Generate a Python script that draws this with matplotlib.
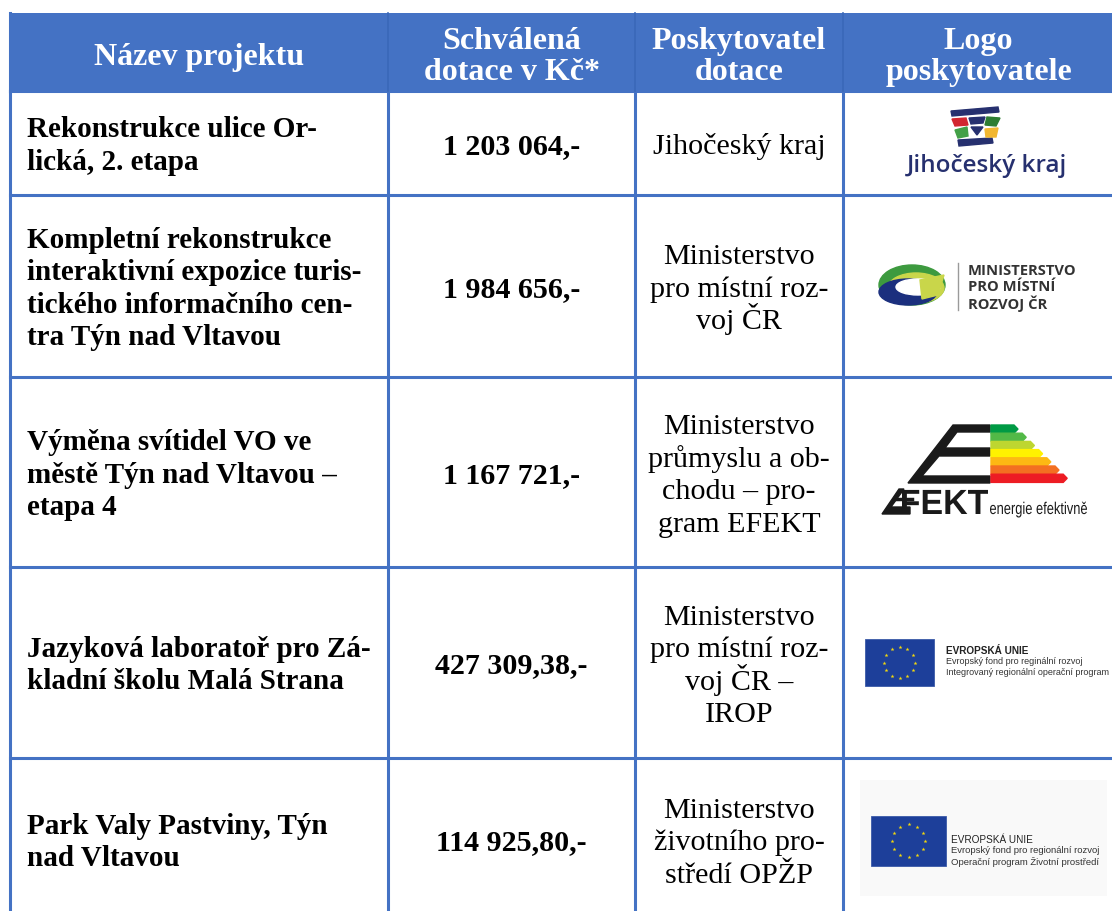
import numpy as np
import matplotlib
matplotlib.use("Agg")
import matplotlib.pyplot as plt
from matplotlib.patches import Rectangle, Polygon, Ellipse, PathPatch
from matplotlib.textpath import TextPath
from matplotlib.font_manager import FontProperties
from matplotlib.transforms import Affine2D

# table content
headers = ["Název projektu", "Schválená\ndotace v Kč*", "Poskytovatel\ndotace", "Logo\nposkytovatele"]
projects = [
    "Rekonstrukce ulice Or-\nlická, 2. etapa",
    "Kompletní rekonstrukce\ninteraktivní expozice turis-\ntického informačního cen-\ntra Týn nad Vltavou",
    "Výměna svítidel VO ve\nměstě Týn nad Vltavou –\netapa 4",
    "Jazyková laboratoř pro Zá-\nkladní školu Malá Strana",
    "Park Valy Pastviny, Týn\nnad Vltavou",
]
amounts = ["1 203 064,-", "1 984 656,-", "1 167 721,-", "427 309,38,-", "114 925,80,-"]
providers = [
    "Jihočeský kraj",
    "Ministerstvo\npro místní roz-\nvoj ČR",
    "Ministerstvo\nprůmyslu a ob-\nchodu – pro-\ngram EFEKT",
    "Ministerstvo\npro místní roz-\nvoj ČR –\nIROP",
    "Ministerstvo\nživotního pro-\nstředí OPŽP",
]
logos = ["jck", "mmr", "efekt", "eu_irop", "eu_opzp"]
eu_texts = {
    "eu_irop": ["Evropský fond pro reginální rozvoj", "Integrovaný regionální operační program"],
    "eu_opzp": ["Evropský fond pro regionální rozvoj", "Operační program Životní prostředí"],
}

# layout in pixels
col_x = [10, 388, 635, 843, 1114]
row_y = [14, 92, 196, 378, 568, 759, 922]
blue = "#4472c4"
serif = ["Liberation Serif", "DejaVu Serif"]
sans = ["Open Sans", "DejaVu Sans"]
name_fs = 21.0
body_fs = 21.6
head_fs = 23
line_h = 32.5

fig = plt.figure(figsize=(11.12, 9.12), dpi=100)
ax = fig.add_axes([0, 0, 1, 1])
ax.set_xlim(0, 1112)
ax.set_ylim(912, 0)
ax.axis("off")


def lines_text(x, cy, s, step, fontsize, **kw):
    parts = s.split("\n")
    y0 = cy - step * (len(parts) - 1) / 2 + 0.33 * fontsize * 100 / 72
    for k, p in enumerate(parts):
        ax.text(x, y0 + k * step, p, va="baseline", fontsize=fontsize, zorder=3, **kw)


def fit_text(s, x0, width, baseline, size, weight="bold", family="Liberation Sans"):
    tp = TextPath((0, 0), s, size=size, prop=FontProperties(family=family, weight=weight))
    ext = tp.get_extents()
    sx = width / ext.width
    tr = Affine2D().translate(-ext.x0, 0).scale(sx, -1).translate(x0, baseline)
    ax.add_patch(PathPatch(tp, transform=tr + ax.transData, color="#1a1a1a", lw=0, zorder=3))


# header band
ax.add_patch(Rectangle((col_x[0], row_y[0]), col_x[-1] - col_x[0], row_y[1] - row_y[0],
                       facecolor=blue, edgecolor="none", zorder=1))
for i, h in enumerate(headers):
    cx = (col_x[i] + col_x[i + 1]) / 2
    lines_text(cx, (row_y[0] + row_y[1]) / 2 + 1, h, 31, head_fs, color="white", family=serif,
               weight="bold", ha="center")

# grid lines
for y in row_y[1:]:
    ax.plot([col_x[0], col_x[-1]], [y, y], color=blue, lw=2.2, zorder=2)
for x in col_x:
    ax.plot([x, x], [row_y[1], row_y[-1]], color=blue, lw=2.2, zorder=2)
    ax.plot([x, x], [row_y[0], row_y[1]], color="#3a68b8", lw=1.2, zorder=2)
ax.plot([col_x[0], col_x[0]], [row_y[0], row_y[1]], color=blue, lw=2.2, zorder=2)


def eu_flag(x0, y0, w, h):
    ax.add_patch(Rectangle((x0, y0), w, h, facecolor="#1d3f9a", edgecolor="#3b5aa8", lw=0.6, zorder=3))
    ang = np.linspace(0, 2 * np.pi, 12, endpoint=False)
    r = h * 0.33
    ax.scatter(x0 + w / 2 + r * np.cos(ang), y0 + h / 2 + r * np.sin(ang), marker="*",
               s=9, color="#f5d90a", linewidths=0, zorder=4)


def draw_logo(kind):
    if kind == "jck":
        navy = "#26306f"
        ax.add_patch(Polygon([[951, 112], [998, 108], [999, 113], [952, 117]], color=navy, zorder=3))
        ax.add_patch(Polygon([[958, 141], [992, 139], [993, 144], [959, 147]], color=navy, zorder=3))
        ax.add_patch(Polygon([[952, 120], [966, 119], [968, 126], [955, 127]], color="#d22630", zorder=3))
        ax.add_patch(Polygon([[969, 119], [985, 118], [983, 124], [971, 125]], color=navy, zorder=3))
        ax.add_patch(Polygon([[987, 118], [1000, 119], [996, 127], [985, 126]], color="#2e7d32", zorder=3))
        ax.add_patch(Polygon([[955, 131], [967, 128], [968, 137], [958, 139]], color="#43a047", zorder=3))
        ax.add_patch(Polygon([[971, 128], [983, 128], [977, 136]], color=navy, zorder=3))
        ax.add_patch(Polygon([[985, 130], [998, 129], [996, 138], [986, 138]], color="#f2b731", zorder=3))
        ax.text(987, 166, "Jihočeský kraj", color=navy, family=sans, weight="semibold",
                fontsize=17.5, ha="center", va="center", zorder=3)
    elif kind == "mmr":
        ax.add_patch(Ellipse((912, 286), 66, 40, color="#3d9a3f", zorder=3))
        ax.add_patch(Ellipse((916, 289), 56, 30, color="#c9d64a", zorder=3))
        ax.add_patch(Ellipse((908, 293), 58, 26, color="#1b2f7e", zorder=3))
        ax.add_patch(Ellipse((918, 288), 44, 16, color="white", zorder=3))
        ax.add_patch(Polygon([[920, 281], [944, 276], [938, 296], [922, 300]], color="#c9d64a", zorder=3))
        ax.plot([958, 958], [264, 311], color="#9a9a9a", lw=1, zorder=3)
        for k, t in enumerate(["MINISTERSTVO", "PRO MÍSTNÍ", "ROZVOJ ČR"]):
            ax.text(968, 271 + 16.5 * k, t, color="#333333", family=sans, weight="bold",
                    fontsize=10.6, ha="left", va="center", zorder=3)
    elif kind == "efekt":
        k = "#1a1a1a"
        ax.add_patch(Polygon([[908, 484], [953, 426], [990, 426], [990, 433], [957, 433],
                              [945, 449], [990, 449], [990, 457], [939, 457], [922, 477],
                              [990, 477], [990, 484]], color=k, zorder=3))
        colors = ["#009a44", "#52b947", "#bed630", "#fff200", "#fdb913", "#f37021", "#ed1c24"]
        for j, c in enumerate(colors):
            y0 = 426 + j * 8.2
            x1 = 1014 + j * 8.2
            ax.add_patch(Polygon([[991, y0], [x1, y0], [x1 + 4, y0 + 4.1], [x1, y0 + 8.2], [991, y0 + 8.2]],
                                 color=c, zorder=3))
        ax.add_patch(Polygon([[882, 515], [899, 490], [904, 490], [891, 508], [910, 508], [910, 515]],
                             color=k, zorder=3))
        ax.plot([896, 912], [500, 500], color=k, lw=2.5, zorder=3)
        fit_text("FEKT", 902, 86, 515, 35)
        fit_text("energie efektivně", 990, 97, 515, 17, weight="normal")
    else:
        if kind == "eu_irop":
            fx, fy, fw, fh, tx, ty, dy, fs = 865, 640, 69, 47, 946, 651, 11, 6.5
            bold = "bold"
        else:
            ax.add_patch(Rectangle((860, 781), 247, 116, facecolor="#f9f9f9", edgecolor="none", zorder=2.5))
            fx, fy, fw, fh, tx, ty, dy, fs = 871, 817, 75, 50, 951, 840, 11, 6.8
            bold = "normal"
        eu_flag(fx, fy, fw, fh)
        ax.text(tx, ty, "EVROPSKÁ UNIE", color="#222222", family=["Liberation Sans", "DejaVu Sans"],
                weight=bold, fontsize=7.2, ha="left", va="center", zorder=4)
        for j, t in enumerate(eu_texts[kind]):
            ax.text(tx, ty + dy * (j + 1), t, color="#333333", family=["Liberation Sans", "DejaVu Sans"],
                    fontsize=fs, ha="left", va="center", zorder=4)


for r in range(len(projects)):
    cy = (row_y[r + 1] + row_y[r + 2]) / 2
    lines_text(col_x[0] + 17, cy, projects[r], line_h, name_fs, family=serif, weight="bold", ha="left")
    lines_text((col_x[1] + col_x[2]) / 2, cy, amounts[r], line_h, body_fs, family=serif,
               weight="bold", ha="center")
    lines_text((col_x[2] + col_x[3]) / 2, cy, providers[r], line_h, body_fs, family=serif, ha="center")
    draw_logo(logos[r])

fig.savefig("out.png", dpi=100, facecolor="white")
